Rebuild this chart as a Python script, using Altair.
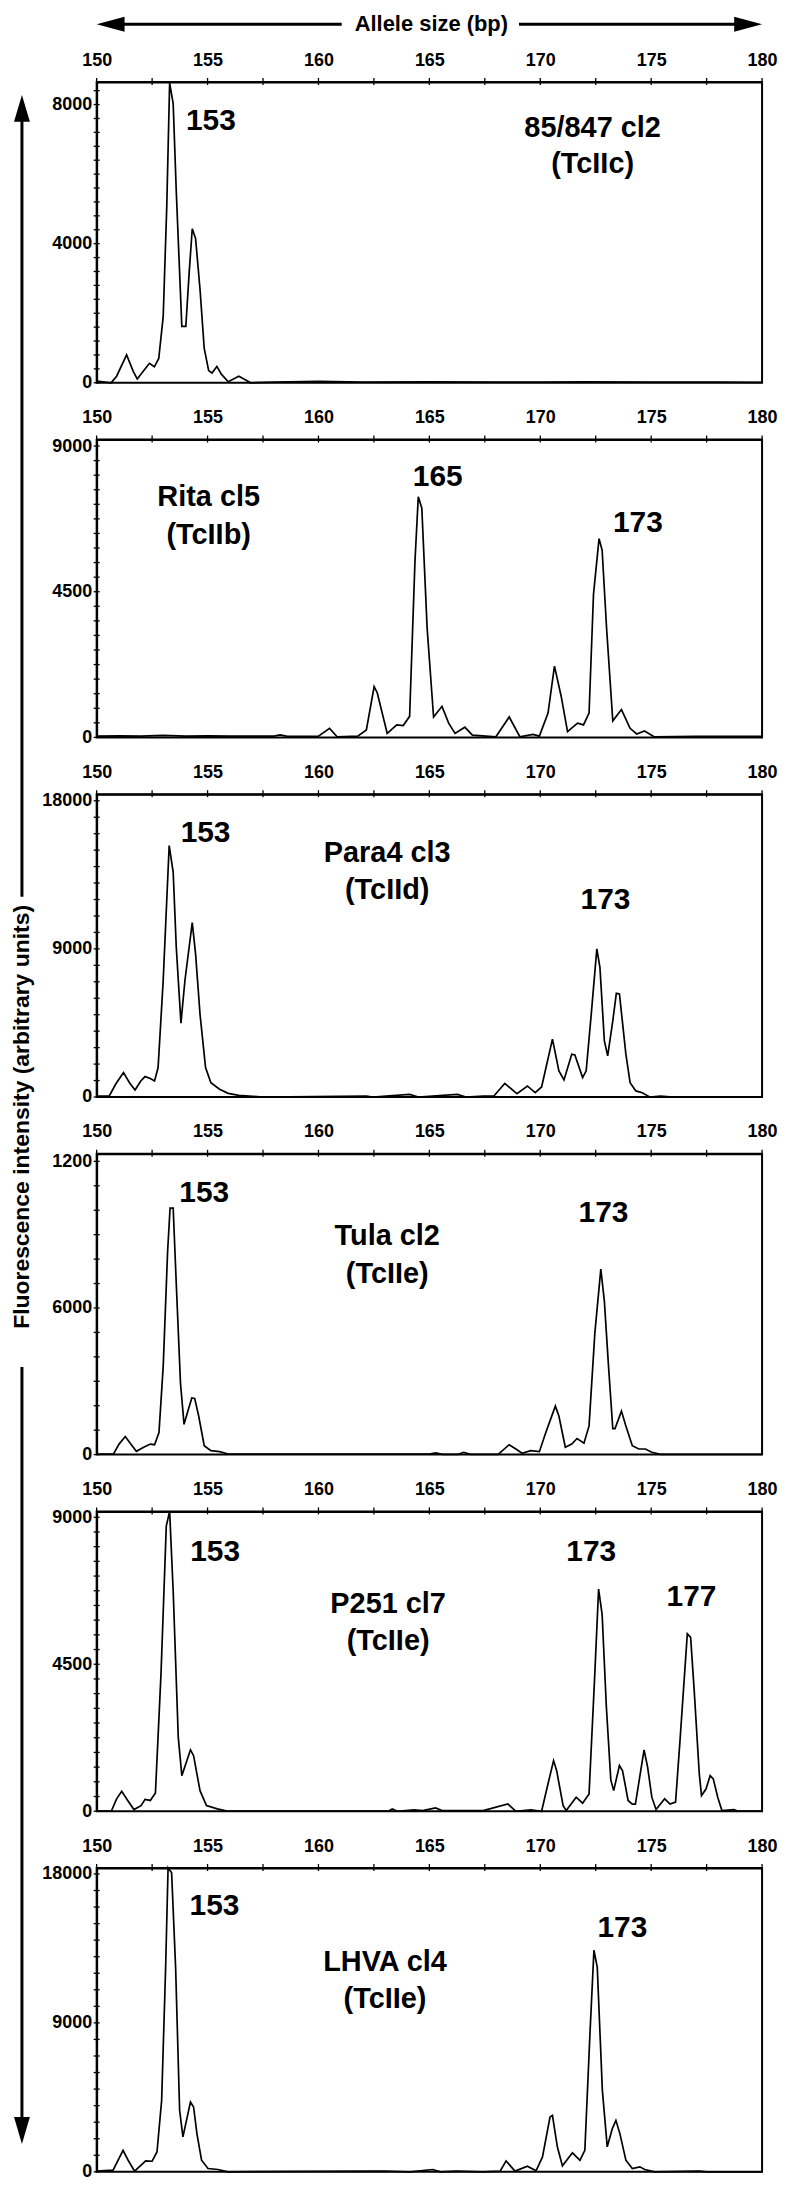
import altair as alt
import pandas as pd

FONT = "Liberation Sans"

# ---------------- data (allele size in bp, fluorescence in arbitrary units) ----------------
X_TICKS = [150, 152.5, 155, 157.5, 160, 162.5, 165, 167.5, 170, 172.5, 175, 177.5, 180]
X_LABELS = [150, 155, 160, 165, 170, 175, 180]

P1_BP = [150.0, 150.65, 150.9, 151.35, 151.65, 151.83, 152.1, 152.38, 152.6, 152.8, 153.0, 153.16,
         153.29, 153.45, 153.59, 153.84, 154.02, 154.17, 154.31, 154.46, 154.66, 154.85, 155.05, 155.2,
         155.42, 155.63, 155.93, 156.41, 156.7, 156.94, 158.0, 160.0, 162.0, 165.0, 168.0, 170.0,
         172.0, 175.0, 178.0, 180.0]
P1_FL = [50, 0, 190, 800, 330, 110, 330, 560, 460, 700, 1900, 5050,
         8620, 8030, 5500, 1620, 1620, 3160, 4430, 4150, 2690, 990, 350, 280,
         470, 240, 30, 190, 90, 0, 20, 40, 20, 30, 20, 20,
         30, 20, 20, 10]

P2_BP = [150.0, 151.0, 152.0, 153.0, 154.0, 155.0, 156.0, 157.0, 158.0, 158.27, 158.6, 160.0,
         160.5, 160.84, 161.77, 162.16, 162.51, 162.65, 163.1, 163.53, 163.82, 164.11, 164.35, 164.5,
         164.66, 164.9, 165.19, 165.57, 165.87, 166.16, 166.6, 166.94, 168.0, 168.6, 169.08, 169.67,
         169.96, 170.35, 170.64, 170.94, 171.23, 171.68, 171.95, 172.2, 172.4, 172.65, 172.79, 172.99,
         173.27, 173.66, 174.05, 174.35, 174.7, 175.13, 177.0, 180.0]
P2_FL = [40, 50, 40, 60, 40, 50, 40, 40, 40, 75, 30, 40,
         280, 20, 40, 230, 1570, 1380, 125, 385, 365, 650, 5420, 7430,
         7080, 3370, 630, 960, 440, 125, 315, 70, 20, 630, 20, 95,
         40, 750, 2200, 1280, 180, 440, 385, 750, 4420, 6140, 5780, 3370,
         510, 860, 280, 105, 200, 20, 30, 30]

P3_BP = [150.0, 150.57, 150.86, 151.21, 151.48, 151.73, 151.99, 152.18, 152.42, 152.61, 152.77, 153.0,
         153.27, 153.45, 153.59, 153.8, 153.98, 154.31, 154.46, 154.66, 154.91, 155.15, 155.54, 155.93,
         156.41, 157.49, 162.16, 162.45, 164.11, 164.5, 166.26, 166.65, 167.43, 167.91, 168.4, 168.95,
         169.42, 169.77, 170.06, 170.55, 170.84, 171.07, 171.42, 171.56, 171.91, 172.07, 172.3, 172.55,
         172.69, 172.89, 173.04, 173.27, 173.43, 173.57, 173.86, 174.05, 174.31, 174.6, 174.93, 175.42,
         176.0, 180.0]
P3_FL = [60, 60, 790, 1480, 870, 430, 975, 1240, 1120, 975, 1790, 7080,
         15280, 13670, 9100, 4490, 7080, 10590, 8700, 5030, 1790, 870, 470, 220,
         100, 0, 60, 0, 160, 0, 160, 0, 60, 60, 830, 200,
         670, 260, 610, 3520, 1590, 1040, 2600, 2560, 1180, 1590, 5050, 9000,
         7880, 3410, 2500, 4630, 6300, 6260, 2600, 870, 370, 260, 0, 60,
         0, 0]

P4_BP = [150.0, 150.76, 151.01, 151.29, 151.54, 151.79, 152.12, 152.42, 152.61, 152.81, 153.0, 153.2,
         153.31, 153.45, 153.59, 153.78, 153.94, 154.13, 154.29, 154.42, 154.6, 154.85, 155.15, 155.54,
         155.93, 165.0, 165.28, 165.6, 166.3, 166.55, 166.85, 168.1, 168.6, 168.9, 169.18, 169.57,
         169.96, 170.25, 170.68, 170.84, 171.13, 171.42, 171.66, 171.97, 172.2, 172.46, 172.73, 172.89,
         173.08, 173.27, 173.37, 173.66, 173.86, 174.15, 174.44, 174.74, 175.03, 175.42, 180.0]
P4_FL = [25, 25, 430, 740, 430, 135, 300, 430, 405, 905, 3600, 8330,
         10090, 10090, 6980, 2920, 1240, 1840, 2320, 2300, 1580, 365, 160, 120,
         25, 25, 70, 10, 10, 95, 10, 10, 405, 230, 55, 160,
         120, 905, 1985, 1580, 300, 430, 660, 470, 1175, 4960, 7590, 6280,
         3580, 1065, 1065, 1780, 1175, 365, 230, 230, 95, 10, 10]

P5_BP = [150.0, 150.66, 150.9, 151.13, 151.4, 151.68, 152.0, 152.18, 152.42, 152.65, 152.9, 153.14,
         153.29, 153.45, 153.68, 153.84, 154.07, 154.23, 154.37, 154.66, 154.95, 155.44, 155.93, 163.14,
         163.33, 163.55, 164.31, 164.7, 165.28, 165.57, 166.45, 167.43, 168.54, 168.89, 169.57, 170.06,
         170.35, 170.6, 170.74, 171.03, 171.17, 171.62, 171.91, 172.2, 172.46, 172.63, 172.79, 172.98,
         173.18, 173.31, 173.57, 173.71, 173.96, 174.15, 174.29, 174.68, 174.84, 175.03, 175.22, 175.61,
         175.85, 176.1, 176.3, 176.63, 176.78, 176.94, 177.17, 177.27, 177.47, 177.66, 177.8, 178.0,
         178.19, 178.73, 178.93, 180.0]
P5_FL = [0, 0, 380, 610, 330, 50, 170, 360, 330, 560, 4190, 8740,
         9180, 6750, 2260, 1090, 1550, 1880, 1700, 630, 170, 70, 0, 0,
         70, 0, 40, 20, 100, 20, 20, 20, 220, 0, 40, 0,
         840, 1550, 1240, 170, 20, 430, 245, 530, 4220, 6800, 6020, 3200,
         960, 630, 1400, 1240, 330, 220, 220, 1880, 1350, 430, 50, 380,
         220, 280, 2160, 5430, 5320, 3700, 1140, 480, 680, 1090, 990, 430,
         20, 50, 0, 0]

P6_BP = [150.0, 150.74, 151.19, 151.42, 151.71, 152.21, 152.5, 152.72, 152.93, 153.11, 153.22, 153.38,
         153.56, 153.74, 153.89, 154.05, 154.23, 154.37, 154.52, 154.73, 155.02, 155.47, 155.92, 162.9,
         164.14, 165.15, 165.5, 166.2, 167.4, 168.19, 168.46, 168.86, 169.42, 169.81, 170.1, 170.44,
         170.55, 170.77, 171.0, 171.45, 171.79, 172.01, 172.24, 172.42, 172.57, 172.8, 173.02, 173.25,
         173.41, 173.59, 173.86, 174.15, 174.49, 174.71, 175.16, 177.19, 177.5, 180.0]
P6_FL = [40, 100, 1300, 700, 40, 660, 640, 1200, 4320, 12350, 18370, 18070,
         12350, 3720, 2110, 3110, 4220, 3920, 2310, 700, 200, 140, 0, 40,
         0, 140, 0, 40, 0, 40, 660, 40, 340, 60, 900, 3310,
         3410, 1510, 360, 1150, 700, 1300, 8330, 13390, 12350, 4920, 1510, 2610,
         3110, 2310, 700, 200, 300, 140, 0, 40, 0, 0]

TRACE_BP = [P1_BP, P2_BP, P3_BP, P4_BP, P5_BP, P6_BP]
TRACE_FL = [P1_FL, P2_FL, P3_FL, P4_FL, P5_FL, P6_FL]

SAMPLE_NAMES = ["85/847 cl2", "Rita cl5", "Para4 cl3", "Tula cl2", "P251 cl7", "LHVA cl4"]
LINEAGES = ["(TcIIc)", "(TcIIb)", "(TcIId)", "(TcIIe)", "(TcIIe)", "(TcIIe)"]
NAME_BP = [172.36, 155.05, 163.1, 163.1, 163.14, 163.0]
NAME_FL = [7320, 7430, 14830, 8940, 6340, 12650]
LINEAGE_FL = [6300, 6250, 12560, 7390, 5220, 10440]

PEAK_TEXT = [["153"], ["165", "173"], ["153", "173"], ["153", "173"], ["153", "173", "177"], ["153", "173"]]
PEAK_BP = [[155.15], [165.38, 174.4], [154.91, 172.94], [154.85, 172.85], [155.34, 172.3, 176.82], [155.31, 173.7]]
PEAK_FL = [[7530], [8030, 6610], [16050, 11950], [10690, 9880], [7930, 7930, 6570], [16060, 14760]]

Y_MAX = [8650, 9200, 18400, 12310, 9180, 18360]
Y_TICK_STEP = [400, 450, 1000, 1000, 450, 1000]
Y_TICK_TOP = [8400, 9000, 18000, 12000, 9000, 18000]
Y_LABEL_VALUES = [[0, 4000, 8000], [0, 4500, 9000], [0, 9000, 18000],
                  [0, 6000, 12000], [0, 4500, 9000], [0, 9000, 18000]]
HEIGHTS = [302, 299, 304, 302, 301, 305]
PLOT_W = 668

ONE = pd.DataFrame({"k": [0]})


def deco_layers():
    """Axis arrows drawn around the first panel (pixel positions relative to its plot)."""
    layers = []
    ty = -58
    # horizontal arrow with "Allele size (bp)"
    layers.append(alt.Chart(ONE).mark_rule(color="black", strokeWidth=3).encode(
        x=alt.value(20), x2=alt.value(246), y=alt.value(ty)))
    layers.append(alt.Chart(ONE).mark_rule(color="black", strokeWidth=3).encode(
        x=alt.value(424), x2=alt.value(648), y=alt.value(ty)))
    layers.append(alt.Chart(ONE).mark_point(shape="M-1,0L1,-0.54L1,0.54Z", size=784, filled=True,
                                            color="black", opacity=1, strokeWidth=0).encode(
        x=alt.value(14), y=alt.value(ty)))
    layers.append(alt.Chart(ONE).mark_point(shape="M1,0L-1,-0.54L-1,0.54Z", size=784, filled=True,
                                            color="black", opacity=1, strokeWidth=0).encode(
        x=alt.value(654), y=alt.value(ty)))
    layers.append(alt.Chart(ONE).mark_text(font=FONT, fontSize=22, fontWeight="bold", color="black",
                                           align="center", baseline="middle").encode(
        x=alt.value(336), y=alt.value(ty), text=alt.value("Allele size (bp)")))
    # vertical arrow with y title
    vx = -75
    layers.append(alt.Chart(ONE).mark_rule(color="black", strokeWidth=3).encode(
        x=alt.value(vx), y=alt.value(35), y2=alt.value(818)))
    layers.append(alt.Chart(ONE).mark_rule(color="black", strokeWidth=3).encode(
        x=alt.value(vx), y=alt.value(1290), y2=alt.value(2050)))
    layers.append(alt.Chart(ONE).mark_point(shape="M0,-1L0.59,1L-0.59,1Z", size=729, filled=True,
                                            color="black", opacity=1, strokeWidth=0).encode(
        x=alt.value(vx), y=alt.value(26.5)))
    layers.append(alt.Chart(ONE).mark_point(shape="M0,1L0.59,-1L-0.59,-1Z", size=729, filled=True,
                                            color="black", opacity=1, strokeWidth=0).encode(
        x=alt.value(vx), y=alt.value(2056.5)))
    layers.append(alt.Chart(ONE).mark_text(font=FONT, fontSize=23, fontWeight="bold", color="black",
                                           align="center", baseline="middle", angle=270).encode(
        x=alt.value(vx), y=alt.value(1039), text=alt.value("Fluorescence intensity (arbitrary units)")))
    return layers


def make_panel(i):
    df = pd.DataFrame({"bp": TRACE_BP[i], "fl": TRACE_FL[i]})
    xs = alt.Scale(domain=[150, 180], nice=False, zero=False)
    ys = alt.Scale(domain=[0, Y_MAX[i]], nice=False, zero=False)
    xaxis = alt.Axis(orient="top", values=X_LABELS, title=None, format="d",
                     labelOverlap=False, labelFlush=False, ticks=False, tickSize=0, labelPadding=13)
    if i == 3:
        yaxis = alt.Axis(orient="left", values=Y_LABEL_VALUES[i], title=None, labelOverlap=False,
                         labelFlush=False, ticks=False, tickSize=0, labelPadding=5,
                         labelExpr="datum.value === 12000 ? '1200' : format(datum.value, 'd')")
    else:
        yaxis = alt.Axis(orient="left", values=Y_LABEL_VALUES[i], title=None, labelOverlap=False,
                         labelFlush=False, ticks=False, tickSize=0, labelPadding=5, format="d")
    x_enc = alt.X("bp:Q", scale=xs, axis=xaxis)
    y_enc = alt.Y("fl:Q", scale=ys, axis=yaxis)

    line = alt.Chart(df).mark_line(color="black", strokeWidth=1.7).encode(x=x_enc, y=y_enc)

    # tick marks crossing the frame (driven by the scales)
    yvals = list(range(0, Y_TICK_TOP[i] + 1, Y_TICK_STEP[i]))
    yt = alt.Chart(pd.DataFrame({"fl": yvals})).mark_rule(color="black", strokeWidth=1.3).encode(
        y=y_enc, x=alt.value(-3), x2=alt.value(3))
    xt = alt.Chart(pd.DataFrame({"bp": X_TICKS})).mark_rule(color="black", strokeWidth=1.3).encode(
        x=x_enc, y=alt.value(-4), y2=alt.value(3))

    rows = []
    for t, b, f in zip(PEAK_TEXT[i], PEAK_BP[i], PEAK_FL[i]):
        rows.append({"bp": b, "fl": f, "txt": t, "fs": 30})
    rows.append({"bp": NAME_BP[i], "fl": NAME_FL[i], "txt": SAMPLE_NAMES[i], "fs": 29})
    rows.append({"bp": NAME_BP[i], "fl": LINEAGE_FL[i], "txt": LINEAGES[i], "fs": 29})
    tdf = pd.DataFrame(rows)
    texts = alt.Chart(tdf).mark_text(font=FONT, fontWeight="bold", color="black",
                                     align="center", baseline="middle").encode(
        x=x_enc, y=y_enc, text="txt:N",
        size=alt.Size("fs:Q", scale=None, legend=None))
    layers = [line, yt, xt, texts]
    if i == 0:
        layers += deco_layers()
    return alt.layer(*layers).properties(width=PLOT_W, height=HEIGHTS[i])


panels = [make_panel(i) for i in range(6)]

chart = alt.vconcat(*panels, spacing=57, bounds="flush").resolve_scale(
    x="independent", y="independent"
).properties(
    padding={"left": 2, "top": 0, "right": 0, "bottom": 0}, background="white"
).configure(font=FONT).configure_view(
    stroke="black", strokeWidth=2
).configure_axis(
    domainColor="black", domainWidth=2, tickColor="black",
    labelColor="black", labelFont=FONT, labelFontSize=18, labelFontWeight="bold", grid=False
)

chart.save("out.html", embed_options={"renderer": "svg", "actions": False})
